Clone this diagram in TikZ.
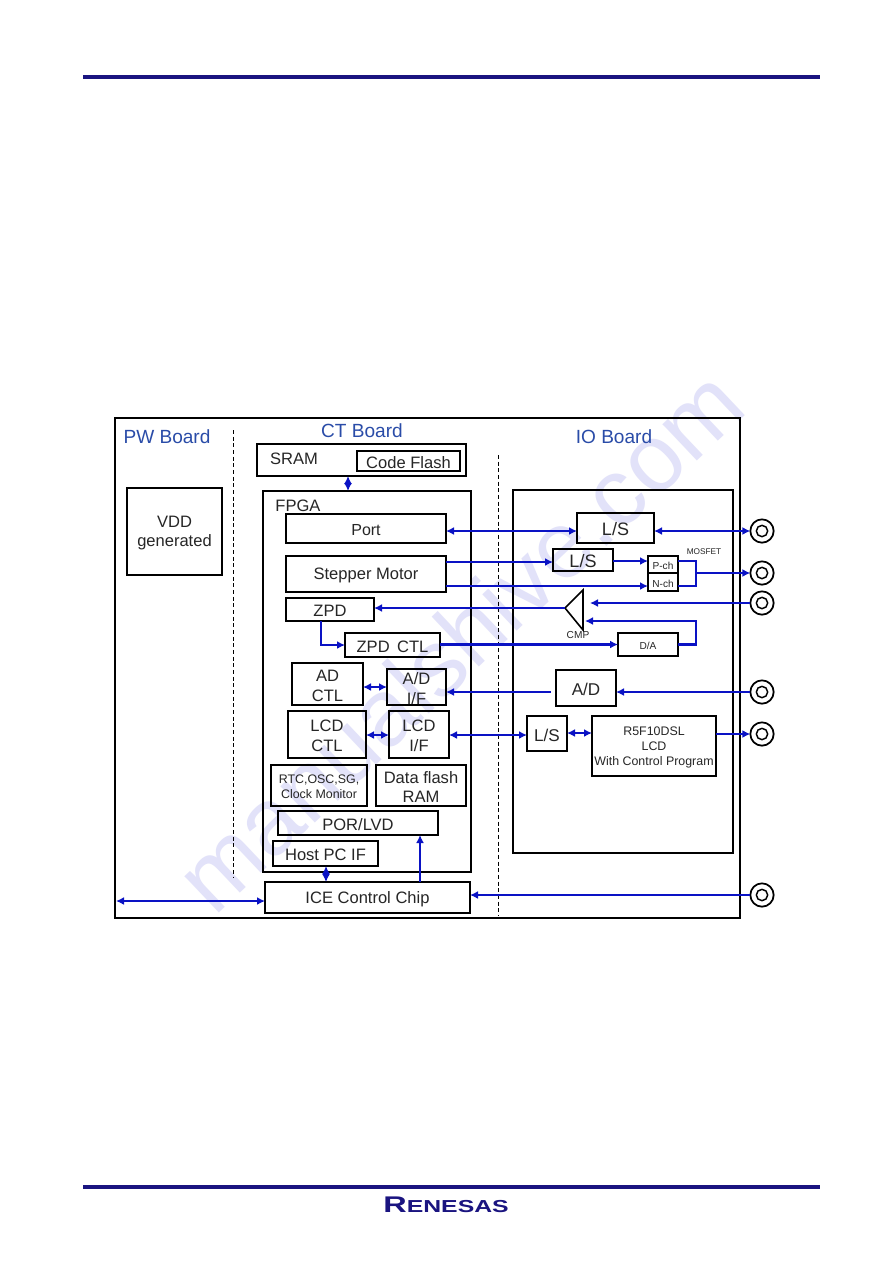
\documentclass[tikz,border=0pt]{standalone}
\usepackage{fontspec}
\setmainfont{Liberation Sans}
\usetikzlibrary{arrows.meta,calc}
\definecolor{navy}{HTML}{1A1480}
\definecolor{wire}{HTML}{0A12C4}
\definecolor{boardblue}{HTML}{2A4CA8}
\definecolor{wmark}{HTML}{E2E2F9}
\newdimen\fsb
\newcommand{\fs}[1]{\fsb=1.2\dimexpr#1pt\relax\fontsize{#1}{\the\fsb}\selectfont}
\tikzset{
  x=0.75pt,y=-0.75pt,
  box/.style={draw=black,line width=1.4pt,inner sep=0pt,outer sep=0pt,align=center,text=black!85,font=\fs{12.4}},
  heavy/.style={box,line width=2.1pt},
  wire/.style={draw=wire,line width=2pt},
  wirethin/.style={draw=wire,line width=1.3pt},
  one/.style={-{Latex[length=6pt,width=6pt]}},
  two/.style={{Latex[length=6pt,width=6pt]}-{Latex[length=6pt,width=6pt]}},
  sep/.style={draw=black,line width=0.6pt,dash pattern=on 3pt off 2pt},
  board/.style={text=boardblue,font=\fs{14.3},inner sep=0pt},
  lbl/.style={text=black!85,inner sep=0pt},
  conn/.style={draw=black,line width=1.3pt,circle,minimum size=17.5pt,inner sep=0pt,outer sep=0pt},
  conninner/.style={draw=black,line width=1.1pt,circle,minimum size=8.5pt,inner sep=0pt},
}
% #1 name, #2 left, #3 top, #4 right, #5 bottom, #6 style, #7 text
\newcommand{\bx}[7]{%
  \node[#6,minimum width={(#4-#2)*0.75pt},minimum height={(#5-#3)*0.75pt}] (#1) at ({(#2+#4)/2},{(#3+#5)/2}) {};%
  \node[#6,draw=none] (#1-txt) at ({(#2+#4)/2},{(#3+#5)/2+1.5}) {#7};}
\newcommand{\jack}[2]{\node[conn] (#1) at (762,#2) {}; \node[conninner] at (762,#2) {};}
\begin{document}
\begin{tikzpicture}
\useasboundingbox (0,0) rectangle (893,1263);
\fill[white] (0,0) rectangle (893,1263);
% watermark
\node[text=wmark,font=\fs{71},rotate=43.4,inner sep=0pt] (wm) at (459,640) {manualshive.com};
% running rules
\coordinate (hl) at (83,77); \coordinate (hr) at (820,77);
\coordinate (fl) at (83,1187); \coordinate (fr) at (820,1187);
\draw[navy,line width=2.6pt] (hl) -- (hr);
\draw[navy,line width=2.6pt] (fl) -- (fr);
% outer frame
\draw[black,line width=1.4pt] (115,418) rectangle (740,918);
% dashed separators
\coordinate (d1a) at (233,430); \coordinate (d1b) at (233,878);
\coordinate (d2a) at (498,455); \coordinate (d2b) at (498,916);
\draw[sep] (d1a) -- (d1b);
\draw[sep] (d2a) -- (d2b);
% board labels
\node[board] (pw) at (167,436.5) {PW Board};
\node[board] (ct) at (362,430.5) {CT Board};
\node[board] (io) at (614,436.5) {IO Board};
% PW
\bx{vdd}{127}{488}{222}{575}{box}{VDD\\generated}
% SRAM
\draw[black,line width=2.1pt] (257,444) rectangle (466,476);
\node[lbl,font=\fs{12.4}] (sram) at (294,458.5) {SRAM};
\bx{flash}{357}{451}{460}{471}{box}{Code Flash}
\coordinate (sramb) at (348,476);
% FPGA
\draw[black,line width=2.1pt] (263,491) rectangle (471,872);
\coordinate (fpgat) at (348,491);
\node[lbl,font=\fs{12.4}] (fpga) at (298,505.5) {FPGA};
\bx{port}{286}{514}{446}{543}{box,font=\fs{12}}{Port}
\bx{step}{286}{556}{446}{592}{box}{Stepper Motor}
\bx{zpd}{286}{598}{374}{621}{box}{ZPD}
\bx{zctl}{345}{633}{440}{657}{box}{ZPD\hspace{0.45em}CTL}
\bx{adctl}{292}{663}{363}{705}{heavy}{AD\\CTL}
\bx{adif}{387}{669}{446}{705}{heavy}{A/D\\I/F}
\bx{lcdctl}{288}{711}{366}{758}{box}{LCD\\CTL}
\bx{lcdif}{389}{711}{449}{758}{heavy}{LCD\\I/F}
\bx{rtc}{271}{765}{367}{806}{box,font=\fs{9.3}}{RTC,OSC,SG,\\Clock Monitor}
\bx{dflash}{376}{765}{466}{806}{box}{Data flash\\RAM}
\bx{por}{278}{811}{438}{835}{box}{POR/LVD}
\bx{host}{273}{841}{378}{866}{box}{Host PC IF}
\bx{ice}{265}{882}{470}{913}{box}{ICE Control Chip}
% IO board
\draw[black,line width=2.1pt] (513,490) rectangle (733,853);
\bx{ls1}{577}{513}{654}{543}{box,font=\fs{13.5}}{L/S}
\bx{ls2}{553}{549}{613}{571}{box,font=\fs{13.5}}{L/S}
\bx{pch}{648}{556}{678}{573}{box,font=\fs{7.6}}{P-ch}
\bx{nch}{648}{573}{678}{591}{box,font=\fs{7.6}}{N-ch}
\node[lbl,font=\fs{6.2}] (mos) at (704,552) {MOSFET};
\coordinate (cmpa) at (565,608); \coordinate (cmpt) at (583,590); \coordinate (cmpb) at (583,630);
\draw[black,line width=1.2pt] (cmpa) -- (cmpt) -- (cmpb) -- cycle;
\node[lbl,font=\fs{7.6}] (cmp) at (578,635) {CMP};
\bx{da}{618}{633}{678}{656}{box,font=\fs{7.6}}{D/A}
\bx{ad}{556}{670}{616}{706}{box,font=\fs{12.8}}{A/D}
\bx{ls3}{527}{716}{567}{751}{box,font=\fs{12.8}}{L/S}
\bx{r5f}{592}{716}{716}{776}{box,font=\fs{9.3}}{R5F10DSL\\LCD\\With Control Program}
% jacks
\jack{j1}{531}
\jack{j2}{573}
\jack{j3}{603}
\jack{j4}{692}
\jack{j5}{734}
\jack{j6}{895}
% connectors
\draw[wire,two] (sramb) -- (fpgat);
\draw[wire,two] (port.east |- j1) -- (ls1.west |- j1);
\draw[wire,two] (ls1.east |- j1) -- (j1.west);
\draw[wire,one] (step.east |- 0,562) -- (ls2.west |- 0,562);
\draw[wire,one] (ls2.east |- 0,561) -- (pch.west |- 0,561);
\draw[wirethin,one] (step.east |- 0,586) -- (nch.west |- 0,586);
\coordinate (mj) at (696,573);
\draw[wire] (pch.east |- 0,561) -| (mj);
\draw[wire] (nch.east |- 0,586) -| (mj);
\draw[wire,one] (mj) -- (j2.west);
\draw[wire,one] (j3.west) -- (590,603);
\draw[wire,one] (cmpa) -- (zpd.east |- cmpa);
\coordinate (cmpin) at (585,621);
\draw[wire,one] (da.east) -- (696,644.5) |- (cmpin);
\draw[wire,one] (zctl.east |- da) -- (da.west);
\draw[wire,one] (321,621) |- (zctl.west);
\draw[wire,one] (j4.west) -- (ad.east |- j4);
\coordinate (adout) at (551,692);
\draw[wire,one] (adout) -- (adif.east |- adout);
\draw[wire,two] (adctl.east |- 0,687) -- (adif.west |- 0,687);
\draw[wire,two] (lcdctl.east |- 0,735) -- (lcdif.west |- 0,735);
\draw[wire,two] (lcdif.east |- 0,735) -- (ls3.west |- 0,735);
\draw[wire,two] (ls3.east |- 0,733) -- (r5f.west |- 0,733);
\draw[wire,one] (r5f.east |- j5) -- (j5.west);
\draw[wire,two] (326,866) -- (326,882);
\draw[wire,one] (420,882) -- (420,835);
\draw[wirethin,one] (j6.west) -- (ice.east |- j6);
\coordinate (pwl) at (116,901);
\draw[wirethin,two] (pwl) -- (ice.west |- pwl);
% logo
\node[text=navy,font=\bfseries\fs{13},inner sep=0pt,xscale=1.43,anchor=base west] (logo) at (383,1212.5) {{\fs{17}R}ENESAS};
\end{tikzpicture}
\end{document}
